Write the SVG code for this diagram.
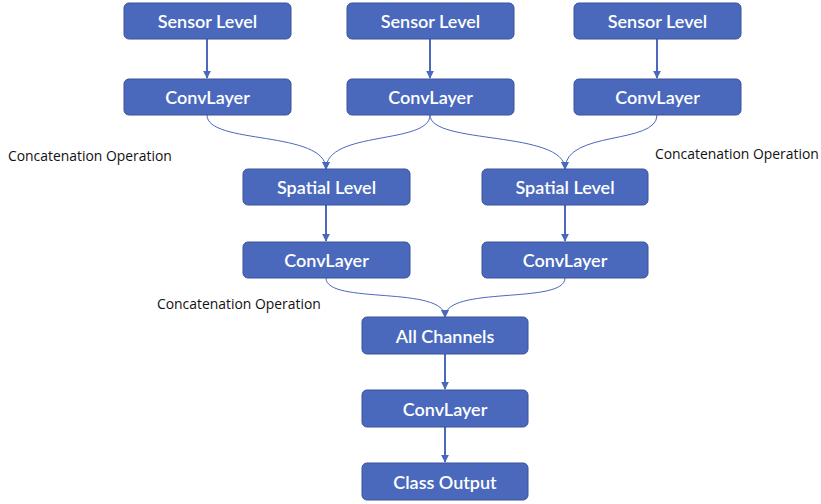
<svg xmlns="http://www.w3.org/2000/svg" width="821" height="504" viewBox="0 0 821 504">
<defs>
<marker id="ah" viewBox="0 0 10 10" refX="9" refY="5" markerWidth="4" markerHeight="4" orient="auto" markerUnits="strokeWidth"><path d="M0,0 L10,5 L0,10 z" fill="#4A69BD"/></marker>
<marker id="ahc" viewBox="0 0 10 10" refX="9" refY="5" markerWidth="8" markerHeight="8" orient="auto" markerUnits="strokeWidth"><path d="M0,0 L10,5 L0,10 z" fill="#4A69BD"/></marker>
</defs>
<style>
.n rect{fill:#4A69BD;stroke:#3A5298;stroke-width:1}
.n text{fill:#fff;font-family:Lato,"Open Sans",sans-serif;font-size:18px;font-weight:600;text-anchor:middle;dominant-baseline:central}
.lbl{fill:#111;font-family:"Open Sans",Lato,sans-serif;font-size:13.9px}
.s{stroke:#4A69BD;stroke-width:2;fill:none;marker-end:url(#ah)}
.c{stroke:#4A69BD;stroke-width:1;fill:none;marker-end:url(#ahc)}
</style>
<g id="connectors">
<path class="s" d="M207,39 V78"/>
<path class="s" d="M430,39 V78"/>
<path class="s" d="M657,39 V78"/>
<path class="s" d="M326,205 V241"/>
<path class="s" d="M565,205 V241"/>
<path class="s" d="M445,354 V389"/>
<path class="s" d="M445,427 V462"/>
<path class="c" d="M207,115 C207,145 326,130 326,169"/>
<path class="c" d="M430,115 C430,145 326,130 326,169"/>
<path class="c" d="M430,115 C430,145 565,130 565,169"/>
<path class="c" d="M657,115 C657,145 565,130 565,169"/>
<path class="c" d="M326,278 C326,305 445,285 445,317"/>
<path class="c" d="M565,278 C565,305 445,285 445,317"/>
</g>
<g id="sensor1" class="n"><rect x="124" y="3" width="167" height="36" rx="5"/><text x="207.5" y="21">Sensor Level</text></g>
<g id="sensor2" class="n"><rect x="347" y="3" width="167" height="36" rx="5"/><text x="430.5" y="21">Sensor Level</text></g>
<g id="sensor3" class="n"><rect x="574" y="3" width="167" height="36" rx="5"/><text x="657.5" y="21">Sensor Level</text></g>
<g id="conv1" class="n"><rect x="124" y="79" width="167" height="36" rx="5"/><text x="207.5" y="97">ConvLayer</text></g>
<g id="conv2" class="n"><rect x="347" y="79" width="167" height="36" rx="5"/><text x="430.5" y="97">ConvLayer</text></g>
<g id="conv3" class="n"><rect x="574" y="79" width="167" height="36" rx="5"/><text x="657.5" y="97">ConvLayer</text></g>
<g id="spatial1" class="n"><rect x="243" y="169" width="167" height="36" rx="5"/><text x="326.5" y="187">Spatial Level</text></g>
<g id="spatial2" class="n"><rect x="482" y="169" width="166" height="36" rx="5"/><text x="565" y="187">Spatial Level</text></g>
<g id="conv4" class="n"><rect x="243" y="242" width="167" height="36" rx="5"/><text x="326.5" y="260">ConvLayer</text></g>
<g id="conv5" class="n"><rect x="482" y="242" width="166" height="36" rx="5"/><text x="565" y="260">ConvLayer</text></g>
<g id="all" class="n"><rect x="362" y="317" width="166" height="37" rx="5"/><text x="445" y="335.5">All Channels</text></g>
<g id="conv6" class="n"><rect x="362" y="390" width="166" height="37" rx="5"/><text x="445" y="408.5">ConvLayer</text></g>
<g id="output" class="n"><rect x="362" y="463" width="166" height="37" rx="5"/><text x="445" y="481.5">Class Output</text></g>
<text class="lbl" x="8" y="161">Concatenation Operation</text>
<text class="lbl" x="655" y="159">Concatenation Operation</text>
<text class="lbl" x="157" y="309">Concatenation Operation</text>
</svg>
